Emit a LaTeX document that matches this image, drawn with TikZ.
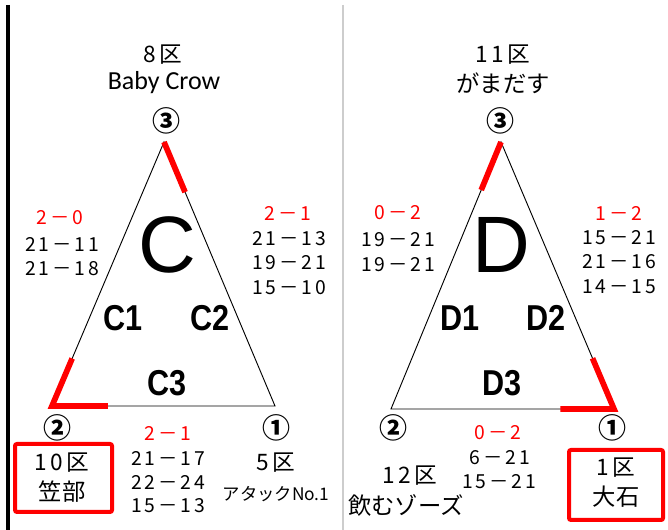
\documentclass[tikz,border=0pt]{standalone}
\usepackage{fontspec}
\usetikzlibrary{calc}
\newfontfamily\jp[LetterSpace=15]{Noto Sans CJK JP}
\newfontfamily\jpn{Noto Sans CJK JP}
\newfontfamily\carl{Carlito}
\newfontfamily\ars{Liberation Sans}
\definecolor{redc}{RGB}{255,0,0}
\definecolor{grayline}{RGB}{205,205,205}
\tikzset{
  tri/.style={draw=black,line width=0.7pt},
  redmark/.style={draw=redc,line width=4.3pt,line join=miter,line cap=butt},
  score/.style={inner sep=0pt,font=\jp\fontsize{14.5}{15}\selectfont},
  rscore/.style={score,text=redc},
  circnum/.style={inner sep=0pt,font=\jpn\bfseries\fontsize{21}{21}\selectfont},
  ward/.style={inner sep=0pt,font=\jp\fontsize{17}{18}\selectfont},
  team/.style={inner sep=0pt,font=\jpn\fontsize{17.5}{18}\selectfont},
  big/.style={inner sep=0pt,font=\ars\fontsize{60}{60}\selectfont},
  sub/.style={inner sep=0pt,font=\ars\bfseries\fontsize{27}{27}\selectfont,xscale=0.85},
  winbox/.style={draw=redc,line width=3pt,rounded corners=1.5pt}
}
\begin{document}
\begin{tikzpicture}[x=0.75pt,y=-0.75pt]
\useasboundingbox[fill=white] (0,0) rectangle (668,530);
% frame lines
\coordinate (bl1) at (8,5);
\coordinate (bl2) at (8,530);
\draw[line width=2.4pt] (bl1) -- (bl2);
\coordinate (gl1) at (343,5);
\coordinate (gl2) at (343,530);
\draw[grayline,line width=1pt] (gl1) -- (gl2);

% ---------- left group C ----------
\coordinate (Ct) at (164,142);
\coordinate (Cl) at (52,406);
\coordinate (Cr) at (275,406);
\draw[tri] (Ct) -- (Cr) -- (Cl) -- cycle;
\draw[redmark] (Ct) -- ($(Ct)!0.19!(Cr)$);
\draw[redmark] ($(Cl)!0.18!(Ct)$) -- (Cl) -- ($(Cl)!0.25!(Cr)$);

\node[circnum] (C3n) at (166,121) {③};
\node[circnum] (C2n) at (57,428) {②};
\node[circnum] (C1n) at (276,428) {①};

\node[ward] (w8) at (163,55) {8区};
\node[inner sep=0pt,font=\carl\fontsize{19.5}{20}\selectfont] (t8) at (164,83) {Baby Crow};

\node[big] (Cbig) at (167,245) {C};
\node[sub] (Cs1) at (123,318) {C1};
\node[sub] (Cs2) at (210,318) {C2};
\node[sub] (Cs3) at (167,383) {C3};

\node[rscore] (Cls) at (60,218) {2－0};
\node[score] (Cl1) at (62,244) {21－11};
\node[score] (Cl2) at (62,269) {21－18};

\node[rscore] (Crs) at (288,213) {2－1};
\node[score] (Cr1) at (289,239) {21－13};
\node[score] (Cr2) at (289,263) {19－21};
\node[score] (Cr3) at (289,288) {15－10};

\node[rscore] (Cbs) at (168,433) {2－1};
\node[score] (Cb1) at (168,458) {21－17};
\node[score] (Cb2) at (168,482) {22－24};
\node[score] (Cb3) at (168,506) {15－13};

\node[ward] (w5) at (276,463) {5区};
\node[inner sep=0pt,font=\jpn\fontsize{13}{14}\selectfont] (t5) at (276,494) {アタックNo.1};

\draw[winbox] (15,444) rectangle (112,512);
\node[ward] (w10) at (62,463) {10区};
\node[team] (t10) at (62,492) {笠部};

% ---------- right group D ----------
\coordinate (Dt) at (501,142);
\coordinate (Dl) at (391,409);
\coordinate (Dr) at (614,409);
\draw[tri] (Dt) -- (Dr) -- (Dl) -- cycle;
\draw[redmark] (Dt) -- ($(Dt)!0.18!(Dl)$);
\draw[redmark] ($(Dr)!0.19!(Dt)$) -- (Dr) -- ($(Dr)!0.24!(Dl)$);

\node[circnum] (D3n) at (500,121) {③};
\node[circnum] (D2n) at (393,428) {②};
\node[circnum] (D1n) at (612,428) {①};

\node[ward] (w11) at (503,55) {11区};
\node[team] (t11) at (503,83) {がまだす};

\node[big] (Dbig) at (501,245) {D};
\node[sub] (Ds1) at (460,318) {D1};
\node[sub] (Ds2) at (546,318) {D2};
\node[sub] (Ds3) at (502,383) {D3};

\node[rscore] (Dls) at (398,213) {0－2};
\node[score] (Dl1) at (398,240) {19－21};
\node[score] (Dl2) at (398,265) {19－21};

\node[rscore] (Drs) at (619,213) {1－2};
\node[score] (Dr1) at (619,238) {15－21};
\node[score] (Dr2) at (619,262) {21－16};
\node[score] (Dr3) at (619,287) {14－15};

\node[rscore] (Dbs) at (498,433) {0－2};
\node[score] (Db1) at (500,458) {6－21};
\node[score] (Db2) at (499,482) {15－21};

\node[ward] (w12) at (410,476) {12区};
\node[team] (t12) at (406,505) {飲むゾーズ};

\draw[winbox] (569,450) rectangle (663,520);
\node[ward] (w1) at (616,468) {1区};
\node[team] (t1) at (616,497) {大石};
\end{tikzpicture}
\end{document}
